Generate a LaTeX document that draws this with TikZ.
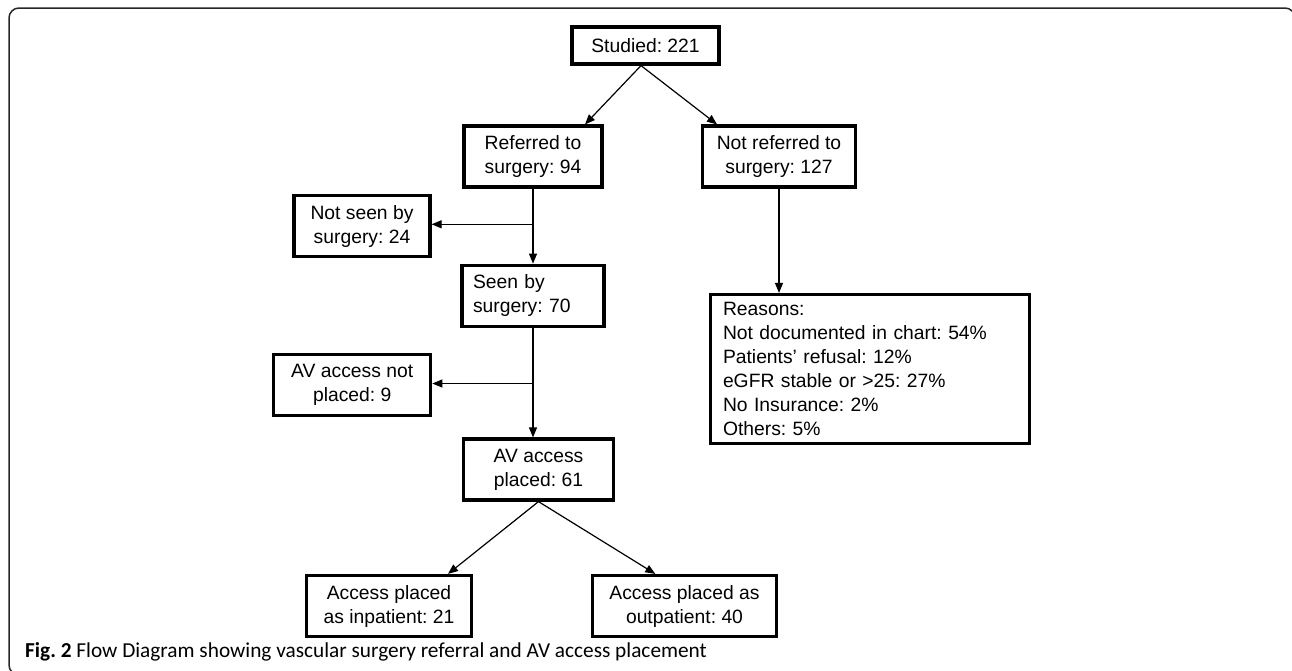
\documentclass[tikz,border=0pt]{standalone}
\usepackage{fontspec}
\setmainfont{Liberation Sans}
\newfontfamily\capfont{Carlito}
\usetikzlibrary{arrows.meta}
\frenchspacing
\begin{document}
\begin{tikzpicture}[x=1pt,y=-1pt,
  box/.style={draw, line width=3.2pt, font=\fontsize{19.3}{24}\selectfont, align=center, inner sep=0pt, minimum height=61pt},
  conn/.style={line width=1.2pt, -{Triangle[length=10pt,width=8pt]}},
  frame/.style={line width=1.5pt, draw=black!85, rounded corners=10pt}]
\useasboundingbox (0,0) rectangle (1292,670);
\clip (0,0) rectangle (1292,670);
\draw[frame] (60,675) -- (9,675) -- (9,8) -- (1295,8) -- (1295,60);

\node[box, minimum width=147pt, minimum height=37pt] (studied) at (645.5,45.5) {Studied: 221};
\node[box, minimum width=138pt] (referred) at (533,156.5) {Referred to\\surgery: 94};
\node[box, minimum width=153pt] (notref) at (779,156.5) {Not referred to\\surgery: 127};
\node[box, minimum width=136pt] (notseen) at (362,226.3) {Not seen by\\surgery: 24};
\node[box, minimum width=142pt, text width=120pt, align=left] (seen) at (533,295.7) {Seen by\\surgery: 70};
\node[box, minimum width=157pt] (avnot) at (352.2,384.7) {AV access not\\placed: 9};
\node[box, minimum width=150pt] (avplaced) at (538.5,469.5) {AV access\\placed: 61};
\node[box, minimum width=165pt] (inpat) at (389,606) {Access placed\\as inpatient: 21};
\node[box, minimum width=184pt] (outpat) at (684.5,606) {Access placed as\\outpatient: 40};
\node[box, minimum width=319pt, minimum height=149pt, text width=294pt, align=left] (reasons) at (870,369) {Reasons:\\Not documented in chart: 54\%\\Patients’ refusal: 12\%\\eGFR stable or >25: 27\%\\No Insurance: 2\%\\Others: 5\%};

\draw[conn] ([xshift=-4.5pt]studied.south) -- ([xshift=52pt]referred.north);
\draw[conn] ([xshift=-4.5pt]studied.south) -- ([xshift=-62pt]notref.north);
\draw[conn] (referred.south) -- (seen.north);
\coordinate (b1) at (533,224.3);
\draw[conn] (b1) -- (notseen.east |- b1);
\draw[conn] (seen.south) -- (seen.south |- avplaced.north);
\coordinate (b2) at (533,383.5);
\draw[conn] (b2) -- (avnot.east |- b2);
\draw[conn] (notref.south) -- (notref.south |- reasons.north);
\draw[conn] (avplaced.south) -- ([xshift=59pt]inpat.north);
\draw[conn] (avplaced.south) -- ([xshift=-29.2pt]outpat.north);

\node[anchor=base west, inner sep=0pt, font=\capfont\fontsize{21.3}{24}\selectfont] (cap) at (25,657) {\textbf{Fig. 2} Flow Diagram showing vascular surgery referral and AV access placement};
\end{tikzpicture}
\end{document}
